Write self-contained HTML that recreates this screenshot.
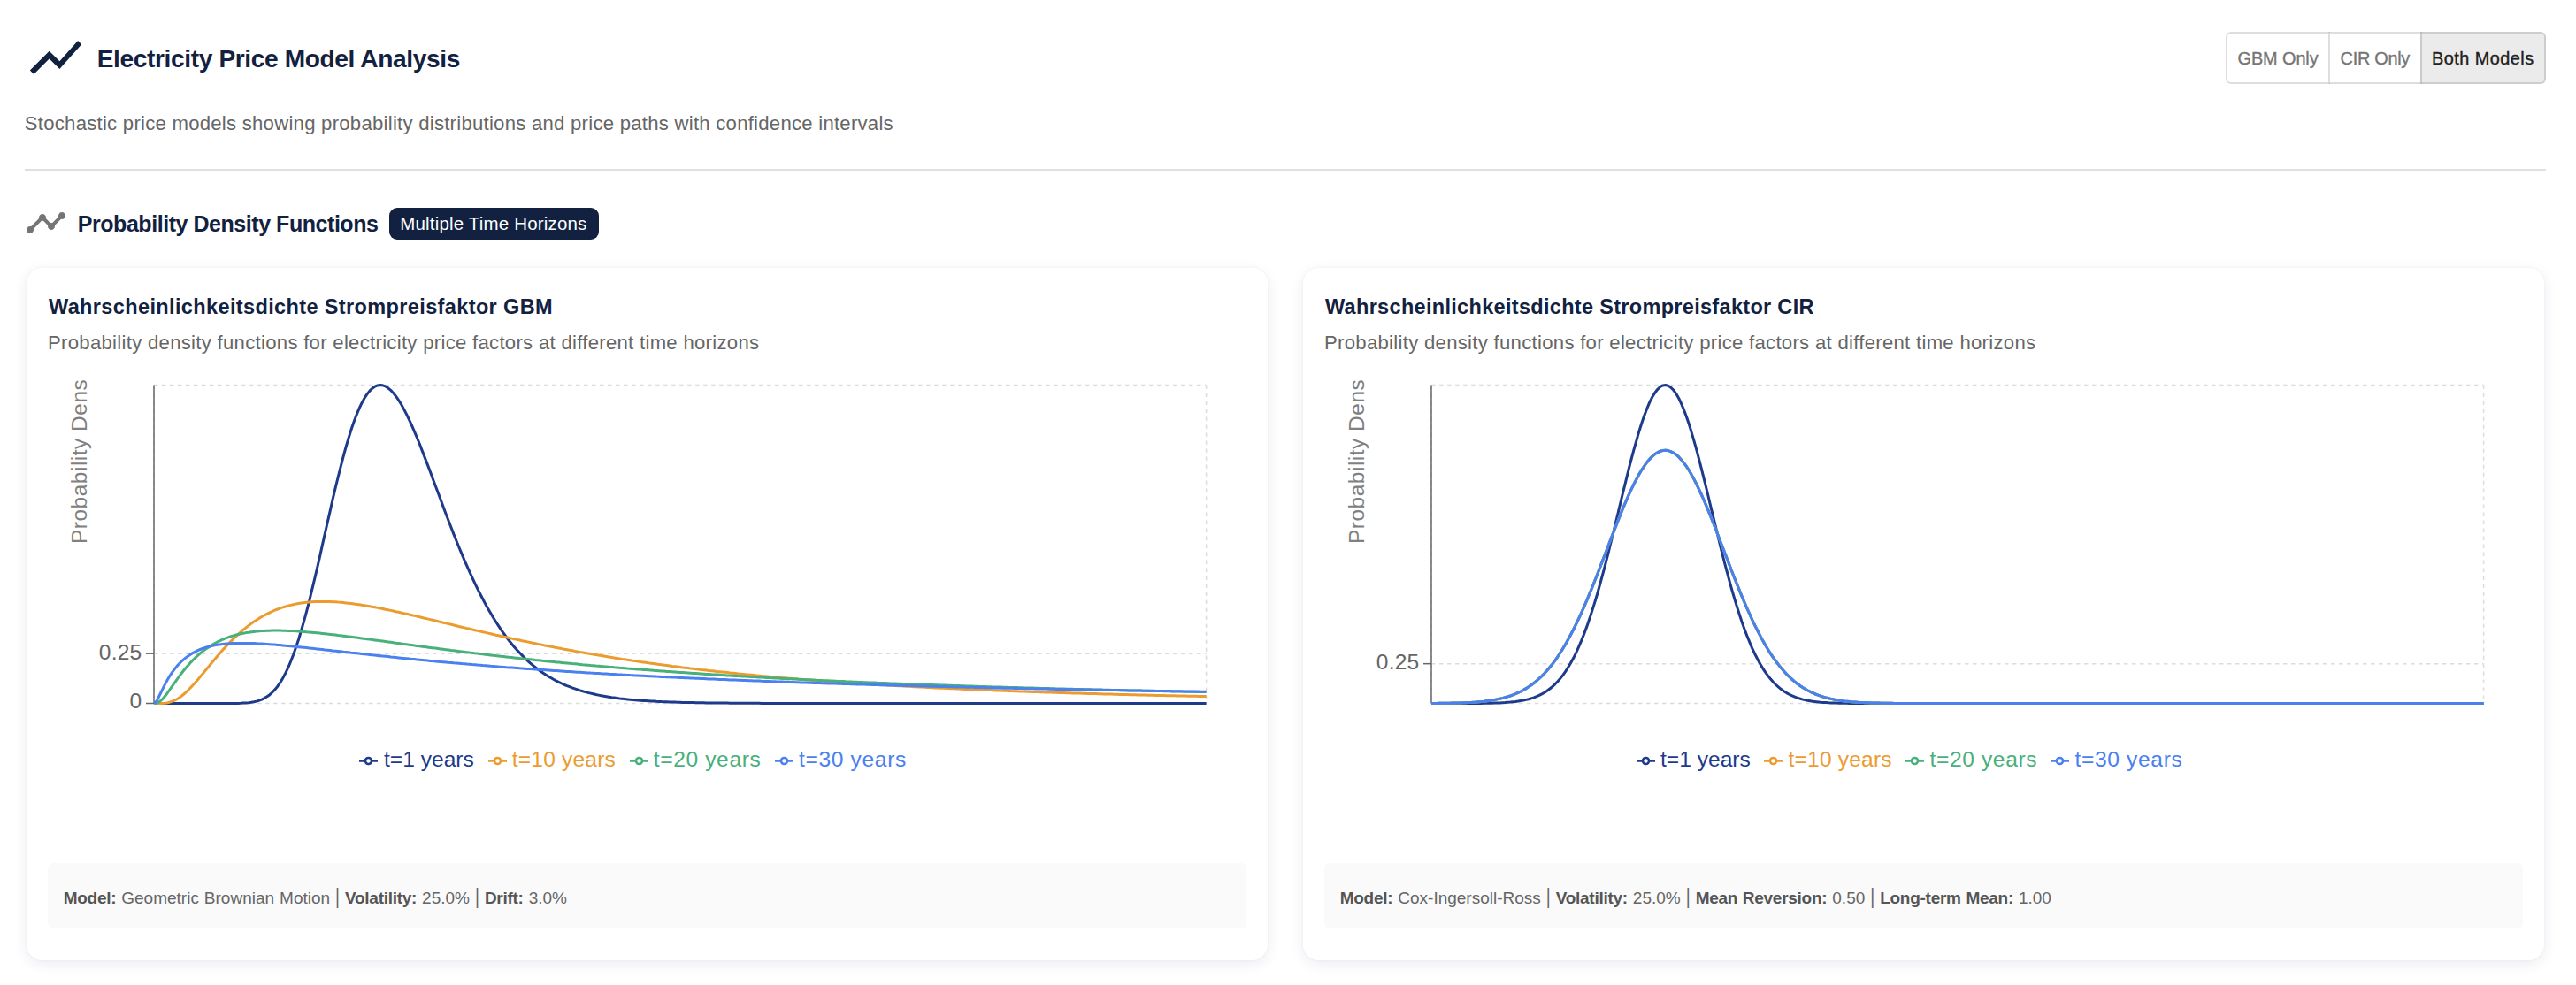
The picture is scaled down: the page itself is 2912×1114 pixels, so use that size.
<!DOCTYPE html>
<html lang="en">
<head>
<meta charset="utf-8">
<title>Electricity Price Model Analysis</title>
<style>
*{box-sizing:border-box;margin:0;padding:0}
html,body{width:2912px;height:1114px;background:#fff;overflow:hidden}
body{font-family:"Liberation Sans",Arial,sans-serif;color:#122140;position:relative}
.abs{position:absolute;white-space:nowrap;line-height:1}
#ico-main{position:absolute;left:28.2px;top:30.4px;width:70px;height:70px;fill:#122140}
h1{left:109.75px;top:52.5px;font-size:28.1px;font-weight:700;letter-spacing:-.372px;color:#122140}
.lead{left:27.8px;top:128.8px;font-size:22.15px;letter-spacing:.249px;color:#666666}
.toggle{position:absolute;left:2516.1px;top:36px;height:58.8px;display:flex}
.toggle button{height:58.8px;border:2px solid rgba(0,0,0,.13);border-left-color:transparent;margin-left:-2px;border-radius:0;background:transparent;font:400 19.9px/57.4px "Liberation Sans",Arial,sans-serif;color:#757575;-webkit-text-stroke:.35px currentColor;text-align:center;white-space:nowrap;padding:0}
.toggle button:first-child{margin-left:0;border-left-color:rgba(0,0,0,.13);border-radius:6px 0 0 6px}
.toggle button:last-child{border-radius:0 6px 6px 0}
.toggle button.on{background:rgba(0,0,0,.08);color:#212121}
hr{position:absolute;left:28px;top:190.8px;width:2850px;height:1.8px;border:0;background:#e0e0e0}
#ico-sec{position:absolute;left:28px;top:228px;width:48px;height:48px;fill:#757575}
h2{left:87.75px;top:240.6px;font-size:25px;font-weight:700;letter-spacing:-.452px;color:#122140}
.badge{position:absolute;left:439.9px;top:234.9px;width:237.4px;height:36px;border-radius:9px;background:#122140;color:#fff;font-size:20.5px;line-height:36.8px;letter-spacing:.183px;padding-left:12.3px;white-space:nowrap}
.card{position:absolute;top:303px;width:1403px;height:783px;background:#fff;border-radius:18px;box-shadow:0 0 0 1.5px rgba(20,40,100,.015),0 4px 16px rgba(20,40,100,.085)}
.card h3{left:25px;top:32.8px;font-size:23.5px;font-weight:700;color:#122140}
.card .desc{left:24px;top:74.4px;font-size:22.15px;letter-spacing:.286px;color:#666666}
.chart{position:absolute;top:125.4px;overflow:hidden;font-family:"Liberation Sans",Arial,sans-serif}
.legend{position:absolute;left:0;top:0;list-style:none}
.legend li{position:absolute;top:542.3px;white-space:nowrap;font-size:24.6px;line-height:28px;height:28px}
.legend li svg{position:absolute;left:0;top:4.5px}
.legend li span{position:absolute;top:0}
.info{position:absolute;left:24px;top:673px;width:1355px;height:74px;border-radius:6px;background:#fafafa;color:#666666;font-size:19px;line-height:80px;padding-left:17.7px;white-space:nowrap;letter-spacing:0;word-spacing:.7px;overflow:hidden}
.info i{font-style:normal;display:inline-block;transform:scaleY(1.22);transform-origin:50% 58%}
.info b{font-weight:700;color:#555;letter-spacing:-.27px}
</style>
</head>
<body>
<header>
<svg id="ico-main" viewBox="0 0 24 24" aria-hidden="true"><path d="M3.5 18.49l6-6.01 4 4L22 6.92l-1.41-1.41-7.09 7.97-4-4L2 16.99z"/></svg>
<h1 class="abs">Electricity Price Model Analysis</h1>
<div class="toggle" role="group">
<button type="button" style="width:117.9px;letter-spacing:-.08px">GBM Only</button>
<button type="button" style="width:105.7px;letter-spacing:-.28px">CIR Only</button>
<button type="button" class="on" style="width:142.3px;letter-spacing:.45px">Both Models</button>
</div>
<p class="abs lead">Stochastic price models showing probability distributions and price paths with confidence intervals</p>
<hr>
</header>
<main>
<svg id="ico-sec" viewBox="0 0 24 24" aria-hidden="true"><path d="M23 8c0 1.1-.9 2-2 2-.18 0-.35-.02-.51-.07l-3.56 3.55c.05.16.07.34.07.52 0 1.1-.9 2-2 2s-2-.9-2-2c0-.18.02-.36.07-.52l-2.55-2.55c-.16.05-.34.07-.52.07s-.36-.02-.52-.07l-4.55 4.56c.05.16.07.33.07.51 0 1.1-.9 2-2 2s-2-.9-2-2 .9-2 2-2c.18 0 .35.02.51.07l4.56-4.55C8.02 9.36 8 9.18 8 9c0-1.1.9-2 2-2s2 .9 2 2c0 .18-.02.36-.07.52l2.55 2.55c.16-.05.34-.07.52-.07s.36.02.52.07l3.55-3.56C19.02 8.35 19 8.18 19 8c0-1.1.9-2 2-2s2 .9 2 2z"/></svg>
<h2 class="abs">Probability Density Functions</h2>
<span class="badge">Multiple Time Horizons</span>
<article class="card" style="left:30px">
<h3 class="abs" style="letter-spacing:.373px">Wahrscheinlichkeitsdichte Strompreisfaktor GBM</h3>
<p class="abs desc">Probability density functions for electricity price factors at different time horizons</p>
<svg class="chart" style="left:24.1px" width="1354.6" height="525" viewBox="0 0 1354.6 525">
<g stroke="#dcdcdc" stroke-width="1.5" stroke-dasharray="4.5 4.5" fill="none">
<line x1="120.0" y1="7.50" x2="1309.6" y2="7.50"/>
<line x1="120.0" y1="311.17" x2="1309.6" y2="311.17"/>
<line x1="120.0" y1="367.50" x2="1309.6" y2="367.50"/>
<line x1="120.0" y1="7.5" x2="120.0" y2="367.5"/>
<line x1="1309.6" y1="7.5" x2="1309.6" y2="367.5"/>
</g>
<g stroke="#666666" stroke-width="1.5" fill="none">
<line x1="120.0" y1="7.5" x2="120.0" y2="367.5"/>
<line x1="111.0" y1="311.17" x2="120.0" y2="311.17"/>
<line x1="111.0" y1="367.5" x2="120.0" y2="367.5"/>
</g>
<g fill="#666666" font-size="24.6" text-anchor="end" letter-spacing="0.17">
<text x="106.4" y="317.67">0.25</text>
<text x="106.4" y="373.00">0</text>
</g>
<text transform="rotate(-90 43.6 187)" x="43.6" y="187" fill="#808080" font-size="24.5" letter-spacing="0.5">Probability Density</text>
<path d="M120.0,367.5L123.0,367.5L125.9,367.5L128.9,367.5L131.9,367.5L134.9,367.5L137.8,367.5L140.8,367.5L143.8,367.5L146.8,367.5L149.7,367.5L152.7,367.5L155.7,367.5L158.7,367.5L161.6,367.5L164.6,367.5L167.6,367.5L170.6,367.5L173.5,367.5L176.5,367.5L179.5,367.5L182.5,367.5L185.4,367.5L188.4,367.5L191.4,367.5L194.3,367.5L197.3,367.5L200.3,367.5L203.3,367.5L206.2,367.5L209.2,367.5L212.2,367.4L215.2,367.4L218.1,367.3L221.1,367.1L224.1,366.9L227.1,366.7L230.0,366.3L233.0,365.8L236.0,365.1L239.0,364.2L241.9,363.1L244.9,361.6L247.9,359.8L250.9,357.7L253.8,355.0L256.8,351.9L259.8,348.2L262.8,343.9L265.7,339.0L268.7,333.4L271.7,327.2L274.6,320.2L277.6,312.5L280.6,304.1L283.6,295.0L286.5,285.2L289.5,274.8L292.5,263.8L295.5,252.3L298.4,240.2L301.4,227.8L304.4,215.1L307.4,202.1L310.3,188.9L313.3,175.7L316.3,162.4L319.3,149.3L322.2,136.4L325.2,123.7L328.2,111.5L331.2,99.6L334.1,88.3L337.1,77.5L340.1,67.4L343.0,58.0L346.0,49.3L349.0,41.3L352.0,34.2L354.9,27.9L357.9,22.5L360.9,17.9L363.9,14.1L366.8,11.2L369.8,9.2L372.8,7.9L375.8,7.5L378.7,7.8L381.7,8.9L384.7,10.8L387.7,13.3L390.6,16.4L393.6,20.2L396.6,24.5L399.6,29.3L402.5,34.6L405.5,40.4L408.5,46.6L411.5,53.1L414.4,59.9L417.4,67.0L420.4,74.3L423.3,81.9L426.3,89.6L429.3,97.4L432.3,105.3L435.2,113.3L438.2,121.3L441.2,129.3L444.2,137.3L447.1,145.3L450.1,153.2L453.1,161.0L456.1,168.7L459.0,176.4L462.0,183.8L465.0,191.2L468.0,198.4L470.9,205.4L473.9,212.2L476.9,218.9L479.9,225.4L482.8,231.7L485.8,237.9L488.8,243.8L491.8,249.5L494.7,255.1L497.7,260.4L500.7,265.6L503.6,270.5L506.6,275.3L509.6,279.9L512.6,284.3L515.5,288.5L518.5,292.6L521.5,296.5L524.5,300.2L527.4,303.7L530.4,307.1L533.4,310.3L536.4,313.4L539.3,316.3L542.3,319.1L545.3,321.8L548.3,324.3L551.2,326.7L554.2,329.0L557.2,331.2L560.2,333.3L563.1,335.2L566.1,337.1L569.1,338.8L572.0,340.5L575.0,342.1L578.0,343.6L581.0,345.0L583.9,346.3L586.9,347.6L589.9,348.7L592.9,349.9L595.8,350.9L598.8,351.9L601.8,352.9L604.8,353.8L607.7,354.6L610.7,355.4L613.7,356.1L616.7,356.8L619.6,357.5L622.6,358.1L625.6,358.7L628.6,359.2L631.5,359.7L634.5,360.2L637.5,360.7L640.4,361.1L643.4,361.5L646.4,361.9L649.4,362.2L652.3,362.6L655.3,362.9L658.3,363.2L661.3,363.5L664.2,363.7L667.2,364.0L670.2,364.2L673.2,364.4L676.1,364.6L679.1,364.8L682.1,365.0L685.1,365.1L688.0,365.3L691.0,365.4L694.0,365.6L697.0,365.7L699.9,365.8L702.9,365.9L705.9,366.0L708.9,366.1L711.8,366.2L714.8,366.3L717.8,366.4L720.7,366.4L723.7,366.5L726.7,366.6L729.7,366.6L732.6,366.7L735.6,366.7L738.6,366.8L741.6,366.8L744.5,366.9L747.5,366.9L750.5,367.0L753.5,367.0L756.4,367.0L759.4,367.1L762.4,367.1L765.4,367.1L768.3,367.1L771.3,367.2L774.3,367.2L777.3,367.2L780.2,367.2L783.2,367.2L786.2,367.3L789.1,367.3L792.1,367.3L795.1,367.3L798.1,367.3L801.0,367.3L804.0,367.3L807.0,367.4L810.0,367.4L812.9,367.4L815.9,367.4L818.9,367.4L821.9,367.4L824.8,367.4L827.8,367.4L830.8,367.4L833.8,367.4L836.7,367.4L839.7,367.4L842.7,367.4L845.7,367.4L848.6,367.4L851.6,367.4L854.6,367.5L857.6,367.5L860.5,367.5L863.5,367.5L866.5,367.5L869.4,367.5L872.4,367.5L875.4,367.5L878.4,367.5L881.3,367.5L884.3,367.5L887.3,367.5L890.3,367.5L893.2,367.5L896.2,367.5L899.2,367.5L902.2,367.5L905.1,367.5L908.1,367.5L911.1,367.5L914.1,367.5L917.0,367.5L920.0,367.5L923.0,367.5L926.0,367.5L928.9,367.5L931.9,367.5L934.9,367.5L937.8,367.5L940.8,367.5L943.8,367.5L946.8,367.5L949.7,367.5L952.7,367.5L955.7,367.5L958.7,367.5L961.6,367.5L964.6,367.5L967.6,367.5L970.6,367.5L973.5,367.5L976.5,367.5L979.5,367.5L982.5,367.5L985.4,367.5L988.4,367.5L991.4,367.5L994.4,367.5L997.3,367.5L1000.3,367.5L1003.3,367.5L1006.3,367.5L1009.2,367.5L1012.2,367.5L1015.2,367.5L1018.1,367.5L1021.1,367.5L1024.1,367.5L1027.1,367.5L1030.0,367.5L1033.0,367.5L1036.0,367.5L1039.0,367.5L1041.9,367.5L1044.9,367.5L1047.9,367.5L1050.9,367.5L1053.8,367.5L1056.8,367.5L1059.8,367.5L1062.8,367.5L1065.7,367.5L1068.7,367.5L1071.7,367.5L1074.7,367.5L1077.6,367.5L1080.6,367.5L1083.6,367.5L1086.5,367.5L1089.5,367.5L1092.5,367.5L1095.5,367.5L1098.4,367.5L1101.4,367.5L1104.4,367.5L1107.4,367.5L1110.3,367.5L1113.3,367.5L1116.3,367.5L1119.3,367.5L1122.2,367.5L1125.2,367.5L1128.2,367.5L1131.2,367.5L1134.1,367.5L1137.1,367.5L1140.1,367.5L1143.1,367.5L1146.0,367.5L1149.0,367.5L1152.0,367.5L1155.0,367.5L1157.9,367.5L1160.9,367.5L1163.9,367.5L1166.8,367.5L1169.8,367.5L1172.8,367.5L1175.8,367.5L1178.7,367.5L1181.7,367.5L1184.7,367.5L1187.7,367.5L1190.6,367.5L1193.6,367.5L1196.6,367.5L1199.6,367.5L1202.5,367.5L1205.5,367.5L1208.5,367.5L1211.5,367.5L1214.4,367.5L1217.4,367.5L1220.4,367.5L1223.4,367.5L1226.3,367.5L1229.3,367.5L1232.3,367.5L1235.2,367.5L1238.2,367.5L1241.2,367.5L1244.2,367.5L1247.1,367.5L1250.1,367.5L1253.1,367.5L1256.1,367.5L1259.0,367.5L1262.0,367.5L1265.0,367.5L1268.0,367.5L1270.9,367.5L1273.9,367.5L1276.9,367.5L1279.9,367.5L1282.8,367.5L1285.8,367.5L1288.8,367.5L1291.8,367.5L1294.7,367.5L1297.7,367.5L1300.7,367.5L1303.7,367.5L1306.6,367.5L1309.6,367.5" fill="none" stroke="#1e3a8a" stroke-width="3" stroke-linejoin="round"/>
<path d="M120.0,367.5L123.0,367.5L125.9,367.5L128.9,367.4L131.9,367.3L134.9,366.9L137.8,366.2L140.8,365.2L143.8,363.9L146.8,362.3L149.7,360.3L152.7,358.0L155.7,355.4L158.7,352.6L161.6,349.5L164.6,346.3L167.6,342.9L170.6,339.5L173.5,335.9L176.5,332.4L179.5,328.7L182.5,325.1L185.4,321.5L188.4,318.0L191.4,314.5L194.3,311.0L197.3,307.6L200.3,304.4L203.3,301.2L206.2,298.1L209.2,295.1L212.2,292.2L215.2,289.4L218.1,286.8L221.1,284.2L224.1,281.8L227.1,279.4L230.0,277.2L233.0,275.1L236.0,273.2L239.0,271.3L241.9,269.5L244.9,267.8L247.9,266.3L250.9,264.8L253.8,263.5L256.8,262.2L259.8,261.0L262.8,259.9L265.7,258.9L268.7,258.0L271.7,257.2L274.6,256.4L277.6,255.7L280.6,255.1L283.6,254.6L286.5,254.1L289.5,253.7L292.5,253.3L295.5,253.0L298.4,252.8L301.4,252.6L304.4,252.5L307.4,252.4L310.3,252.4L313.3,252.4L316.3,252.4L319.3,252.5L322.2,252.7L325.2,252.8L328.2,253.1L331.2,253.3L334.1,253.6L337.1,253.9L340.1,254.2L343.0,254.6L346.0,255.0L349.0,255.4L352.0,255.8L354.9,256.3L357.9,256.7L360.9,257.2L363.9,257.7L366.8,258.3L369.8,258.8L372.8,259.4L375.8,260.0L378.7,260.5L381.7,261.2L384.7,261.8L387.7,262.4L390.6,263.0L393.6,263.7L396.6,264.3L399.6,265.0L402.5,265.7L405.5,266.3L408.5,267.0L411.5,267.7L414.4,268.4L417.4,269.1L420.4,269.8L423.3,270.5L426.3,271.2L429.3,271.9L432.3,272.6L435.2,273.3L438.2,274.0L441.2,274.7L444.2,275.5L447.1,276.2L450.1,276.9L453.1,277.6L456.1,278.3L459.0,279.0L462.0,279.7L465.0,280.5L468.0,281.2L470.9,281.9L473.9,282.6L476.9,283.3L479.9,284.0L482.8,284.7L485.8,285.4L488.8,286.1L491.8,286.8L494.7,287.4L497.7,288.1L500.7,288.8L503.6,289.5L506.6,290.2L509.6,290.8L512.6,291.5L515.5,292.2L518.5,292.8L521.5,293.5L524.5,294.1L527.4,294.8L530.4,295.4L533.4,296.0L536.4,296.7L539.3,297.3L542.3,297.9L545.3,298.5L548.3,299.2L551.2,299.8L554.2,300.4L557.2,301.0L560.2,301.6L563.1,302.2L566.1,302.8L569.1,303.3L572.0,303.9L575.0,304.5L578.0,305.1L581.0,305.6L583.9,306.2L586.9,306.7L589.9,307.3L592.9,307.8L595.8,308.4L598.8,308.9L601.8,309.5L604.8,310.0L607.7,310.5L610.7,311.0L613.7,311.5L616.7,312.0L619.6,312.6L622.6,313.1L625.6,313.6L628.6,314.0L631.5,314.5L634.5,315.0L637.5,315.5L640.4,316.0L643.4,316.4L646.4,316.9L649.4,317.4L652.3,317.8L655.3,318.3L658.3,318.7L661.3,319.2L664.2,319.6L667.2,320.0L670.2,320.5L673.2,320.9L676.1,321.3L679.1,321.8L682.1,322.2L685.1,322.6L688.0,323.0L691.0,323.4L694.0,323.8L697.0,324.2L699.9,324.6L702.9,325.0L705.9,325.4L708.9,325.7L711.8,326.1L714.8,326.5L717.8,326.9L720.7,327.2L723.7,327.6L726.7,328.0L729.7,328.3L732.6,328.7L735.6,329.0L738.6,329.4L741.6,329.7L744.5,330.0L747.5,330.4L750.5,330.7L753.5,331.0L756.4,331.4L759.4,331.7L762.4,332.0L765.4,332.3L768.3,332.6L771.3,333.0L774.3,333.3L777.3,333.6L780.2,333.9L783.2,334.2L786.2,334.5L789.1,334.8L792.1,335.0L795.1,335.3L798.1,335.6L801.0,335.9L804.0,336.2L807.0,336.5L810.0,336.7L812.9,337.0L815.9,337.3L818.9,337.5L821.9,337.8L824.8,338.1L827.8,338.3L830.8,338.6L833.8,338.8L836.7,339.1L839.7,339.3L842.7,339.6L845.7,339.8L848.6,340.1L851.6,340.3L854.6,340.5L857.6,340.8L860.5,341.0L863.5,341.2L866.5,341.5L869.4,341.7L872.4,341.9L875.4,342.1L878.4,342.3L881.3,342.6L884.3,342.8L887.3,343.0L890.3,343.2L893.2,343.4L896.2,343.6L899.2,343.8L902.2,344.0L905.1,344.2L908.1,344.4L911.1,344.6L914.1,344.8L917.0,345.0L920.0,345.2L923.0,345.4L926.0,345.6L928.9,345.8L931.9,345.9L934.9,346.1L937.8,346.3L940.8,346.5L943.8,346.7L946.8,346.8L949.7,347.0L952.7,347.2L955.7,347.3L958.7,347.5L961.6,347.7L964.6,347.8L967.6,348.0L970.6,348.2L973.5,348.3L976.5,348.5L979.5,348.7L982.5,348.8L985.4,349.0L988.4,349.1L991.4,349.3L994.4,349.4L997.3,349.6L1000.3,349.7L1003.3,349.9L1006.3,350.0L1009.2,350.2L1012.2,350.3L1015.2,350.4L1018.1,350.6L1021.1,350.7L1024.1,350.8L1027.1,351.0L1030.0,351.1L1033.0,351.3L1036.0,351.4L1039.0,351.5L1041.9,351.6L1044.9,351.8L1047.9,351.9L1050.9,352.0L1053.8,352.1L1056.8,352.3L1059.8,352.4L1062.8,352.5L1065.7,352.6L1068.7,352.8L1071.7,352.9L1074.7,353.0L1077.6,353.1L1080.6,353.2L1083.6,353.3L1086.5,353.4L1089.5,353.6L1092.5,353.7L1095.5,353.8L1098.4,353.9L1101.4,354.0L1104.4,354.1L1107.4,354.2L1110.3,354.3L1113.3,354.4L1116.3,354.5L1119.3,354.6L1122.2,354.7L1125.2,354.8L1128.2,354.9L1131.2,355.0L1134.1,355.1L1137.1,355.2L1140.1,355.3L1143.1,355.4L1146.0,355.5L1149.0,355.6L1152.0,355.7L1155.0,355.8L1157.9,355.9L1160.9,356.0L1163.9,356.0L1166.8,356.1L1169.8,356.2L1172.8,356.3L1175.8,356.4L1178.7,356.5L1181.7,356.6L1184.7,356.6L1187.7,356.7L1190.6,356.8L1193.6,356.9L1196.6,357.0L1199.6,357.1L1202.5,357.1L1205.5,357.2L1208.5,357.3L1211.5,357.4L1214.4,357.4L1217.4,357.5L1220.4,357.6L1223.4,357.7L1226.3,357.7L1229.3,357.8L1232.3,357.9L1235.2,358.0L1238.2,358.0L1241.2,358.1L1244.2,358.2L1247.1,358.2L1250.1,358.3L1253.1,358.4L1256.1,358.5L1259.0,358.5L1262.0,358.6L1265.0,358.7L1268.0,358.7L1270.9,358.8L1273.9,358.8L1276.9,358.9L1279.9,359.0L1282.8,359.0L1285.8,359.1L1288.8,359.2L1291.8,359.2L1294.7,359.3L1297.7,359.3L1300.7,359.4L1303.7,359.5L1306.6,359.5L1309.6,359.6" fill="none" stroke="#ec9c2f" stroke-width="3" stroke-linejoin="round"/>
<path d="M120.0,367.5L123.0,367.3L125.9,365.9L128.9,363.4L131.9,360.0L134.9,356.2L137.8,352.0L140.8,347.8L143.8,343.6L146.8,339.4L149.7,335.4L152.7,331.5L155.7,327.8L158.7,324.4L161.6,321.1L164.6,318.0L167.6,315.1L170.6,312.4L173.5,309.9L176.5,307.6L179.5,305.4L182.5,303.4L185.4,301.5L188.4,299.8L191.4,298.2L194.3,296.8L197.3,295.4L200.3,294.2L203.3,293.1L206.2,292.0L209.2,291.1L212.2,290.3L215.2,289.5L218.1,288.8L221.1,288.2L224.1,287.6L227.1,287.2L230.0,286.7L233.0,286.4L236.0,286.1L239.0,285.8L241.9,285.6L244.9,285.4L247.9,285.3L250.9,285.2L253.8,285.1L256.8,285.1L259.8,285.1L262.8,285.1L265.7,285.2L268.7,285.3L271.7,285.4L274.6,285.5L277.6,285.6L280.6,285.8L283.6,286.0L286.5,286.2L289.5,286.4L292.5,286.7L295.5,286.9L298.4,287.2L301.4,287.5L304.4,287.8L307.4,288.1L310.3,288.4L313.3,288.7L316.3,289.1L319.3,289.4L322.2,289.7L325.2,290.1L328.2,290.5L331.2,290.8L334.1,291.2L337.1,291.6L340.1,291.9L343.0,292.3L346.0,292.7L349.0,293.1L352.0,293.5L354.9,293.9L357.9,294.3L360.9,294.7L363.9,295.1L366.8,295.5L369.8,295.9L372.8,296.3L375.8,296.7L378.7,297.1L381.7,297.5L384.7,297.9L387.7,298.3L390.6,298.7L393.6,299.2L396.6,299.6L399.6,300.0L402.5,300.4L405.5,300.8L408.5,301.2L411.5,301.6L414.4,302.0L417.4,302.4L420.4,302.8L423.3,303.2L426.3,303.6L429.3,304.0L432.3,304.4L435.2,304.8L438.2,305.1L441.2,305.5L444.2,305.9L447.1,306.3L450.1,306.7L453.1,307.1L456.1,307.5L459.0,307.8L462.0,308.2L465.0,308.6L468.0,308.9L470.9,309.3L473.9,309.7L476.9,310.1L479.9,310.4L482.8,310.8L485.8,311.1L488.8,311.5L491.8,311.8L494.7,312.2L497.7,312.5L500.7,312.9L503.6,313.2L506.6,313.6L509.6,313.9L512.6,314.3L515.5,314.6L518.5,314.9L521.5,315.3L524.5,315.6L527.4,315.9L530.4,316.2L533.4,316.6L536.4,316.9L539.3,317.2L542.3,317.5L545.3,317.8L548.3,318.1L551.2,318.5L554.2,318.8L557.2,319.1L560.2,319.4L563.1,319.7L566.1,320.0L569.1,320.3L572.0,320.6L575.0,320.9L578.0,321.1L581.0,321.4L583.9,321.7L586.9,322.0L589.9,322.3L592.9,322.6L595.8,322.8L598.8,323.1L601.8,323.4L604.8,323.7L607.7,323.9L610.7,324.2L613.7,324.5L616.7,324.7L619.6,325.0L622.6,325.2L625.6,325.5L628.6,325.8L631.5,326.0L634.5,326.3L637.5,326.5L640.4,326.8L643.4,327.0L646.4,327.3L649.4,327.5L652.3,327.7L655.3,328.0L658.3,328.2L661.3,328.4L664.2,328.7L667.2,328.9L670.2,329.1L673.2,329.4L676.1,329.6L679.1,329.8L682.1,330.0L685.1,330.3L688.0,330.5L691.0,330.7L694.0,330.9L697.0,331.1L699.9,331.4L702.9,331.6L705.9,331.8L708.9,332.0L711.8,332.2L714.8,332.4L717.8,332.6L720.7,332.8L723.7,333.0L726.7,333.2L729.7,333.4L732.6,333.6L735.6,333.8L738.6,334.0L741.6,334.2L744.5,334.4L747.5,334.6L750.5,334.8L753.5,334.9L756.4,335.1L759.4,335.3L762.4,335.5L765.4,335.7L768.3,335.9L771.3,336.0L774.3,336.2L777.3,336.4L780.2,336.6L783.2,336.7L786.2,336.9L789.1,337.1L792.1,337.3L795.1,337.4L798.1,337.6L801.0,337.8L804.0,337.9L807.0,338.1L810.0,338.2L812.9,338.4L815.9,338.6L818.9,338.7L821.9,338.9L824.8,339.0L827.8,339.2L830.8,339.4L833.8,339.5L836.7,339.7L839.7,339.8L842.7,340.0L845.7,340.1L848.6,340.3L851.6,340.4L854.6,340.6L857.6,340.7L860.5,340.8L863.5,341.0L866.5,341.1L869.4,341.3L872.4,341.4L875.4,341.6L878.4,341.7L881.3,341.8L884.3,342.0L887.3,342.1L890.3,342.2L893.2,342.4L896.2,342.5L899.2,342.6L902.2,342.8L905.1,342.9L908.1,343.0L911.1,343.2L914.1,343.3L917.0,343.4L920.0,343.5L923.0,343.7L926.0,343.8L928.9,343.9L931.9,344.0L934.9,344.1L937.8,344.3L940.8,344.4L943.8,344.5L946.8,344.6L949.7,344.7L952.7,344.9L955.7,345.0L958.7,345.1L961.6,345.2L964.6,345.3L967.6,345.4L970.6,345.5L973.5,345.7L976.5,345.8L979.5,345.9L982.5,346.0L985.4,346.1L988.4,346.2L991.4,346.3L994.4,346.4L997.3,346.5L1000.3,346.6L1003.3,346.7L1006.3,346.8L1009.2,346.9L1012.2,347.0L1015.2,347.1L1018.1,347.2L1021.1,347.3L1024.1,347.4L1027.1,347.5L1030.0,347.6L1033.0,347.7L1036.0,347.8L1039.0,347.9L1041.9,348.0L1044.9,348.1L1047.9,348.2L1050.9,348.3L1053.8,348.4L1056.8,348.5L1059.8,348.6L1062.8,348.7L1065.7,348.8L1068.7,348.9L1071.7,348.9L1074.7,349.0L1077.6,349.1L1080.6,349.2L1083.6,349.3L1086.5,349.4L1089.5,349.5L1092.5,349.6L1095.5,349.6L1098.4,349.7L1101.4,349.8L1104.4,349.9L1107.4,350.0L1110.3,350.1L1113.3,350.1L1116.3,350.2L1119.3,350.3L1122.2,350.4L1125.2,350.5L1128.2,350.6L1131.2,350.6L1134.1,350.7L1137.1,350.8L1140.1,350.9L1143.1,350.9L1146.0,351.0L1149.0,351.1L1152.0,351.2L1155.0,351.2L1157.9,351.3L1160.9,351.4L1163.9,351.5L1166.8,351.5L1169.8,351.6L1172.8,351.7L1175.8,351.8L1178.7,351.8L1181.7,351.9L1184.7,352.0L1187.7,352.0L1190.6,352.1L1193.6,352.2L1196.6,352.3L1199.6,352.3L1202.5,352.4L1205.5,352.5L1208.5,352.5L1211.5,352.6L1214.4,352.7L1217.4,352.7L1220.4,352.8L1223.4,352.9L1226.3,352.9L1229.3,353.0L1232.3,353.1L1235.2,353.1L1238.2,353.2L1241.2,353.3L1244.2,353.3L1247.1,353.4L1250.1,353.4L1253.1,353.5L1256.1,353.6L1259.0,353.6L1262.0,353.7L1265.0,353.7L1268.0,353.8L1270.9,353.9L1273.9,353.9L1276.9,354.0L1279.9,354.0L1282.8,354.1L1285.8,354.2L1288.8,354.2L1291.8,354.3L1294.7,354.3L1297.7,354.4L1300.7,354.4L1303.7,354.5L1306.6,354.6L1309.6,354.6" fill="none" stroke="#48b07a" stroke-width="3" stroke-linejoin="round"/>
<path d="M120.0,367.5L123.0,365.0L125.9,359.3L128.9,353.1L131.9,347.1L134.9,341.6L137.8,336.6L140.8,332.1L143.8,328.1L146.8,324.5L149.7,321.4L152.7,318.6L155.7,316.1L158.7,313.9L161.6,311.9L164.6,310.1L167.6,308.6L170.6,307.2L173.5,306.0L176.5,305.0L179.5,304.0L182.5,303.2L185.4,302.5L188.4,301.9L191.4,301.3L194.3,300.9L197.3,300.5L200.3,300.2L203.3,299.9L206.2,299.7L209.2,299.6L212.2,299.5L215.2,299.4L218.1,299.4L221.1,299.4L224.1,299.4L227.1,299.4L230.0,299.5L233.0,299.6L236.0,299.8L239.0,299.9L241.9,300.1L244.9,300.3L247.9,300.5L250.9,300.7L253.8,300.9L256.8,301.1L259.8,301.4L262.8,301.6L265.7,301.9L268.7,302.2L271.7,302.5L274.6,302.8L277.6,303.1L280.6,303.4L283.6,303.7L286.5,304.0L289.5,304.3L292.5,304.6L295.5,304.9L298.4,305.2L301.4,305.6L304.4,305.9L307.4,306.2L310.3,306.5L313.3,306.9L316.3,307.2L319.3,307.5L322.2,307.9L325.2,308.2L328.2,308.5L331.2,308.8L334.1,309.2L337.1,309.5L340.1,309.8L343.0,310.2L346.0,310.5L349.0,310.8L352.0,311.1L354.9,311.5L357.9,311.8L360.9,312.1L363.9,312.4L366.8,312.8L369.8,313.1L372.8,313.4L375.8,313.7L378.7,314.0L381.7,314.3L384.7,314.6L387.7,315.0L390.6,315.3L393.6,315.6L396.6,315.9L399.6,316.2L402.5,316.5L405.5,316.8L408.5,317.1L411.5,317.4L414.4,317.6L417.4,317.9L420.4,318.2L423.3,318.5L426.3,318.8L429.3,319.1L432.3,319.4L435.2,319.6L438.2,319.9L441.2,320.2L444.2,320.5L447.1,320.7L450.1,321.0L453.1,321.3L456.1,321.5L459.0,321.8L462.0,322.0L465.0,322.3L468.0,322.6L470.9,322.8L473.9,323.1L476.9,323.3L479.9,323.6L482.8,323.8L485.8,324.1L488.8,324.3L491.8,324.6L494.7,324.8L497.7,325.0L500.7,325.3L503.6,325.5L506.6,325.7L509.6,326.0L512.6,326.2L515.5,326.4L518.5,326.7L521.5,326.9L524.5,327.1L527.4,327.3L530.4,327.5L533.4,327.8L536.4,328.0L539.3,328.2L542.3,328.4L545.3,328.6L548.3,328.8L551.2,329.0L554.2,329.2L557.2,329.4L560.2,329.6L563.1,329.8L566.1,330.0L569.1,330.2L572.0,330.4L575.0,330.6L578.0,330.8L581.0,331.0L583.9,331.2L586.9,331.4L589.9,331.6L592.9,331.8L595.8,332.0L598.8,332.2L601.8,332.3L604.8,332.5L607.7,332.7L610.7,332.9L613.7,333.1L616.7,333.2L619.6,333.4L622.6,333.6L625.6,333.8L628.6,333.9L631.5,334.1L634.5,334.3L637.5,334.4L640.4,334.6L643.4,334.8L646.4,334.9L649.4,335.1L652.3,335.2L655.3,335.4L658.3,335.6L661.3,335.7L664.2,335.9L667.2,336.0L670.2,336.2L673.2,336.3L676.1,336.5L679.1,336.7L682.1,336.8L685.1,336.9L688.0,337.1L691.0,337.2L694.0,337.4L697.0,337.5L699.9,337.7L702.9,337.8L705.9,338.0L708.9,338.1L711.8,338.2L714.8,338.4L717.8,338.5L720.7,338.7L723.7,338.8L726.7,338.9L729.7,339.1L732.6,339.2L735.6,339.3L738.6,339.5L741.6,339.6L744.5,339.7L747.5,339.9L750.5,340.0L753.5,340.1L756.4,340.2L759.4,340.4L762.4,340.5L765.4,340.6L768.3,340.7L771.3,340.9L774.3,341.0L777.3,341.1L780.2,341.2L783.2,341.3L786.2,341.5L789.1,341.6L792.1,341.7L795.1,341.8L798.1,341.9L801.0,342.0L804.0,342.1L807.0,342.3L810.0,342.4L812.9,342.5L815.9,342.6L818.9,342.7L821.9,342.8L824.8,342.9L827.8,343.0L830.8,343.1L833.8,343.2L836.7,343.3L839.7,343.5L842.7,343.6L845.7,343.7L848.6,343.8L851.6,343.9L854.6,344.0L857.6,344.1L860.5,344.2L863.5,344.3L866.5,344.4L869.4,344.5L872.4,344.6L875.4,344.7L878.4,344.8L881.3,344.9L884.3,345.0L887.3,345.0L890.3,345.1L893.2,345.2L896.2,345.3L899.2,345.4L902.2,345.5L905.1,345.6L908.1,345.7L911.1,345.8L914.1,345.9L917.0,346.0L920.0,346.1L923.0,346.1L926.0,346.2L928.9,346.3L931.9,346.4L934.9,346.5L937.8,346.6L940.8,346.7L943.8,346.7L946.8,346.8L949.7,346.9L952.7,347.0L955.7,347.1L958.7,347.2L961.6,347.2L964.6,347.3L967.6,347.4L970.6,347.5L973.5,347.6L976.5,347.6L979.5,347.7L982.5,347.8L985.4,347.9L988.4,348.0L991.4,348.0L994.4,348.1L997.3,348.2L1000.3,348.3L1003.3,348.3L1006.3,348.4L1009.2,348.5L1012.2,348.6L1015.2,348.6L1018.1,348.7L1021.1,348.8L1024.1,348.9L1027.1,348.9L1030.0,349.0L1033.0,349.1L1036.0,349.1L1039.0,349.2L1041.9,349.3L1044.9,349.3L1047.9,349.4L1050.9,349.5L1053.8,349.6L1056.8,349.6L1059.8,349.7L1062.8,349.8L1065.7,349.8L1068.7,349.9L1071.7,350.0L1074.7,350.0L1077.6,350.1L1080.6,350.2L1083.6,350.2L1086.5,350.3L1089.5,350.3L1092.5,350.4L1095.5,350.5L1098.4,350.5L1101.4,350.6L1104.4,350.7L1107.4,350.7L1110.3,350.8L1113.3,350.8L1116.3,350.9L1119.3,351.0L1122.2,351.0L1125.2,351.1L1128.2,351.1L1131.2,351.2L1134.1,351.3L1137.1,351.3L1140.1,351.4L1143.1,351.4L1146.0,351.5L1149.0,351.6L1152.0,351.6L1155.0,351.7L1157.9,351.7L1160.9,351.8L1163.9,351.8L1166.8,351.9L1169.8,352.0L1172.8,352.0L1175.8,352.1L1178.7,352.1L1181.7,352.2L1184.7,352.2L1187.7,352.3L1190.6,352.3L1193.6,352.4L1196.6,352.4L1199.6,352.5L1202.5,352.5L1205.5,352.6L1208.5,352.6L1211.5,352.7L1214.4,352.7L1217.4,352.8L1220.4,352.9L1223.4,352.9L1226.3,353.0L1229.3,353.0L1232.3,353.1L1235.2,353.1L1238.2,353.2L1241.2,353.2L1244.2,353.2L1247.1,353.3L1250.1,353.3L1253.1,353.4L1256.1,353.4L1259.0,353.5L1262.0,353.5L1265.0,353.6L1268.0,353.6L1270.9,353.7L1273.9,353.7L1276.9,353.8L1279.9,353.8L1282.8,353.9L1285.8,353.9L1288.8,354.0L1291.8,354.0L1294.7,354.0L1297.7,354.1L1300.7,354.1L1303.7,354.2L1306.6,354.2L1309.6,354.3" fill="none" stroke="#4a80f0" stroke-width="3" stroke-linejoin="round"/>
</svg>
<ul class="legend">
<li style="left:376px;color:#1e3a8a"><svg width="21" height="21" viewBox="0 0 32 32"><path stroke-width="4" fill="none" stroke="#1e3a8a" d="M0,16h10.666666666666666A5.333333333333333,5.333333333333333,0,1,1,21.333333333333332,16H32M21.333333333333332,16A5.333333333333333,5.333333333333333,0,1,1,10.666666666666666,16"/></svg><span style="left:28px;letter-spacing:0px">t=1 years</span></li>
<li style="left:522px;color:#ec9c2f"><svg width="21" height="21" viewBox="0 0 32 32"><path stroke-width="4" fill="none" stroke="#ec9c2f" d="M0,16h10.666666666666666A5.333333333333333,5.333333333333333,0,1,1,21.333333333333332,16H32M21.333333333333332,16A5.333333333333333,5.333333333333333,0,1,1,10.666666666666666,16"/></svg><span style="left:26.75px;letter-spacing:0.17px">t=10 years</span></li>
<li style="left:682px;color:#48b07a"><svg width="21" height="21" viewBox="0 0 32 32"><path stroke-width="4" fill="none" stroke="#48b07a" d="M0,16h10.666666666666666A5.333333333333333,5.333333333333333,0,1,1,21.333333333333332,16H32M21.333333333333332,16A5.333333333333333,5.333333333333333,0,1,1,10.666666666666666,16"/></svg><span style="left:26.75px;letter-spacing:0.61px">t=20 years</span></li>
<li style="left:846px;color:#4a80f0"><svg width="21" height="21" viewBox="0 0 32 32"><path stroke-width="4" fill="none" stroke="#4a80f0" d="M0,16h10.666666666666666A5.333333333333333,5.333333333333333,0,1,1,21.333333333333332,16H32M21.333333333333332,16A5.333333333333333,5.333333333333333,0,1,1,10.666666666666666,16"/></svg><span style="left:27px;letter-spacing:0.64px">t=30 years</span></li>
</ul>
<p class="info"><b>Model:</b> Geometric Brownian Motion <i>|</i> <b>Volatility:</b> 25.0% <i>|</i> <b>Drift:</b> 3.0%</p>
</article>
<article class="card" style="left:1473px">
<h3 class="abs" style="letter-spacing:.311px">Wahrscheinlichkeitsdichte Strompreisfaktor CIR</h3>
<p class="abs desc">Probability density functions for electricity price factors at different time horizons</p>
<svg class="chart" style="left:25.05px" width="1354.6" height="525" viewBox="0 0 1354.6 525">
<g stroke="#dcdcdc" stroke-width="1.5" stroke-dasharray="4.5 4.5" fill="none">
<line x1="120.0" y1="7.50" x2="1309.6" y2="7.50"/>
<line x1="120.0" y1="322.66" x2="1309.6" y2="322.66"/>
<line x1="120.0" y1="367.50" x2="1309.6" y2="367.50"/>
<line x1="120.0" y1="7.5" x2="120.0" y2="367.5"/>
<line x1="1309.6" y1="7.5" x2="1309.6" y2="367.5"/>
</g>
<g stroke="#666666" stroke-width="1.5" fill="none">
<line x1="120.0" y1="7.5" x2="120.0" y2="367.5"/>
<line x1="111.0" y1="322.66" x2="120.0" y2="322.66"/>
</g>
<g fill="#666666" font-size="24.6" text-anchor="end" letter-spacing="0.17">
<text x="106.4" y="329.16">0.25</text>
</g>
<text transform="rotate(-90 43.6 187)" x="43.6" y="187" fill="#808080" font-size="24.5" letter-spacing="0.5">Probability Density</text>
<path d="M120.0,367.5L123.0,367.5L125.9,367.5L128.9,367.5L131.9,367.5L134.9,367.5L137.8,367.5L140.8,367.5L143.8,367.5L146.8,367.5L149.7,367.5L152.7,367.5L155.7,367.5L158.7,367.5L161.6,367.5L164.6,367.4L167.6,367.4L170.6,367.4L173.5,367.4L176.5,367.4L179.5,367.3L182.5,367.3L185.4,367.2L188.4,367.2L191.4,367.1L194.3,367.0L197.3,366.9L200.3,366.7L203.3,366.6L206.2,366.3L209.2,366.1L212.2,365.8L215.2,365.5L218.1,365.1L221.1,364.6L224.1,364.1L227.1,363.4L230.0,362.7L233.0,361.8L236.0,360.8L239.0,359.7L241.9,358.4L244.9,356.9L247.9,355.2L250.9,353.2L253.8,351.0L256.8,348.6L259.8,345.8L262.8,342.8L265.7,339.4L268.7,335.6L271.7,331.4L274.6,326.8L277.6,321.8L280.6,316.3L283.6,310.3L286.5,303.8L289.5,296.9L292.5,289.4L295.5,281.4L298.4,272.9L301.4,263.9L304.4,254.4L307.4,244.5L310.3,234.0L313.3,223.2L316.3,212.0L319.3,200.4L322.2,188.5L325.2,176.5L328.2,164.2L331.2,151.9L334.1,139.5L337.1,127.2L340.1,115.1L343.0,103.2L346.0,91.6L349.0,80.4L352.0,69.8L354.9,59.7L357.9,50.3L360.9,41.6L363.9,33.8L366.8,26.9L369.8,21.0L372.8,16.1L375.8,12.3L378.7,9.5L381.7,7.9L384.7,7.5L387.7,8.2L390.6,10.1L393.6,13.0L396.6,17.1L399.6,22.2L402.5,28.4L405.5,35.5L408.5,43.5L411.5,52.3L414.4,61.9L417.4,72.1L420.4,82.9L423.3,94.1L426.3,105.8L429.3,117.8L432.3,130.0L435.2,142.3L438.2,154.6L441.2,166.9L444.2,179.2L447.1,191.2L450.1,203.0L453.1,214.5L456.1,225.6L459.0,236.4L462.0,246.7L465.0,256.6L468.0,266.0L470.9,274.9L473.9,283.2L476.9,291.1L479.9,298.5L482.8,305.3L485.8,311.7L488.8,317.5L491.8,322.9L494.7,327.8L497.7,332.3L500.7,336.4L503.6,340.1L506.6,343.5L509.6,346.5L512.6,349.2L515.5,351.6L518.5,353.7L521.5,355.6L524.5,357.2L527.4,358.7L530.4,359.9L533.4,361.1L536.4,362.0L539.3,362.9L542.3,363.6L545.3,364.2L548.3,364.7L551.2,365.2L554.2,365.6L557.2,365.9L560.2,366.2L563.1,366.4L566.1,366.6L569.1,366.8L572.0,366.9L575.0,367.0L578.0,367.1L581.0,367.2L583.9,367.2L586.9,367.3L589.9,367.3L592.9,367.4L595.8,367.4L598.8,367.4L601.8,367.4L604.8,367.4L607.7,367.5L610.7,367.5L613.7,367.5L616.7,367.5L619.6,367.5L622.6,367.5L625.6,367.5L628.6,367.5L631.5,367.5L634.5,367.5L637.5,367.5L640.4,367.5L643.4,367.5L646.4,367.5L649.4,367.5L652.3,367.5L655.3,367.5L658.3,367.5L661.3,367.5L664.2,367.5L667.2,367.5L670.2,367.5L673.2,367.5L676.1,367.5L679.1,367.5L682.1,367.5L685.1,367.5L688.0,367.5L691.0,367.5L694.0,367.5L697.0,367.5L699.9,367.5L702.9,367.5L705.9,367.5L708.9,367.5L711.8,367.5L714.8,367.5L717.8,367.5L720.7,367.5L723.7,367.5L726.7,367.5L729.7,367.5L732.6,367.5L735.6,367.5L738.6,367.5L741.6,367.5L744.5,367.5L747.5,367.5L750.5,367.5L753.5,367.5L756.4,367.5L759.4,367.5L762.4,367.5L765.4,367.5L768.3,367.5L771.3,367.5L774.3,367.5L777.3,367.5L780.2,367.5L783.2,367.5L786.2,367.5L789.1,367.5L792.1,367.5L795.1,367.5L798.1,367.5L801.0,367.5L804.0,367.5L807.0,367.5L810.0,367.5L812.9,367.5L815.9,367.5L818.9,367.5L821.9,367.5L824.8,367.5L827.8,367.5L830.8,367.5L833.8,367.5L836.7,367.5L839.7,367.5L842.7,367.5L845.7,367.5L848.6,367.5L851.6,367.5L854.6,367.5L857.6,367.5L860.5,367.5L863.5,367.5L866.5,367.5L869.4,367.5L872.4,367.5L875.4,367.5L878.4,367.5L881.3,367.5L884.3,367.5L887.3,367.5L890.3,367.5L893.2,367.5L896.2,367.5L899.2,367.5L902.2,367.5L905.1,367.5L908.1,367.5L911.1,367.5L914.1,367.5L917.0,367.5L920.0,367.5L923.0,367.5L926.0,367.5L928.9,367.5L931.9,367.5L934.9,367.5L937.8,367.5L940.8,367.5L943.8,367.5L946.8,367.5L949.7,367.5L952.7,367.5L955.7,367.5L958.7,367.5L961.6,367.5L964.6,367.5L967.6,367.5L970.6,367.5L973.5,367.5L976.5,367.5L979.5,367.5L982.5,367.5L985.4,367.5L988.4,367.5L991.4,367.5L994.4,367.5L997.3,367.5L1000.3,367.5L1003.3,367.5L1006.3,367.5L1009.2,367.5L1012.2,367.5L1015.2,367.5L1018.1,367.5L1021.1,367.5L1024.1,367.5L1027.1,367.5L1030.0,367.5L1033.0,367.5L1036.0,367.5L1039.0,367.5L1041.9,367.5L1044.9,367.5L1047.9,367.5L1050.9,367.5L1053.8,367.5L1056.8,367.5L1059.8,367.5L1062.8,367.5L1065.7,367.5L1068.7,367.5L1071.7,367.5L1074.7,367.5L1077.6,367.5L1080.6,367.5L1083.6,367.5L1086.5,367.5L1089.5,367.5L1092.5,367.5L1095.5,367.5L1098.4,367.5L1101.4,367.5L1104.4,367.5L1107.4,367.5L1110.3,367.5L1113.3,367.5L1116.3,367.5L1119.3,367.5L1122.2,367.5L1125.2,367.5L1128.2,367.5L1131.2,367.5L1134.1,367.5L1137.1,367.5L1140.1,367.5L1143.1,367.5L1146.0,367.5L1149.0,367.5L1152.0,367.5L1155.0,367.5L1157.9,367.5L1160.9,367.5L1163.9,367.5L1166.8,367.5L1169.8,367.5L1172.8,367.5L1175.8,367.5L1178.7,367.5L1181.7,367.5L1184.7,367.5L1187.7,367.5L1190.6,367.5L1193.6,367.5L1196.6,367.5L1199.6,367.5L1202.5,367.5L1205.5,367.5L1208.5,367.5L1211.5,367.5L1214.4,367.5L1217.4,367.5L1220.4,367.5L1223.4,367.5L1226.3,367.5L1229.3,367.5L1232.3,367.5L1235.2,367.5L1238.2,367.5L1241.2,367.5L1244.2,367.5L1247.1,367.5L1250.1,367.5L1253.1,367.5L1256.1,367.5L1259.0,367.5L1262.0,367.5L1265.0,367.5L1268.0,367.5L1270.9,367.5L1273.9,367.5L1276.9,367.5L1279.9,367.5L1282.8,367.5L1285.8,367.5L1288.8,367.5L1291.8,367.5L1294.7,367.5L1297.7,367.5L1300.7,367.5L1303.7,367.5L1306.6,367.5L1309.6,367.5" fill="none" stroke="#1e3a8a" stroke-width="3" stroke-linejoin="round"/>
<path d="M120.0,367.4L123.0,367.4L125.9,367.4L128.9,367.3L131.9,367.3L134.9,367.3L137.8,367.2L140.8,367.2L143.8,367.1L146.8,367.1L149.7,367.0L152.7,366.9L155.7,366.8L158.7,366.7L161.6,366.5L164.6,366.4L167.6,366.2L170.6,366.0L173.5,365.7L176.5,365.5L179.5,365.2L182.5,364.8L185.4,364.4L188.4,364.0L191.4,363.5L194.3,362.9L197.3,362.3L200.3,361.6L203.3,360.8L206.2,359.9L209.2,359.0L212.2,357.9L215.2,356.7L218.1,355.4L221.1,354.0L224.1,352.4L227.1,350.6L230.0,348.8L233.0,346.7L236.0,344.5L239.0,342.1L241.9,339.4L244.9,336.6L247.9,333.6L250.9,330.3L253.8,326.8L256.8,323.1L259.8,319.1L262.8,314.8L265.7,310.3L268.7,305.6L271.7,300.6L274.6,295.3L277.6,289.8L280.6,284.0L283.6,278.0L286.5,271.8L289.5,265.3L292.5,258.6L295.5,251.7L298.4,244.6L301.4,237.3L304.4,229.8L307.4,222.3L310.3,214.6L313.3,206.9L316.3,199.1L319.3,191.3L322.2,183.5L325.2,175.7L328.2,168.1L331.2,160.5L334.1,153.1L337.1,145.8L340.1,138.8L343.0,132.1L346.0,125.6L349.0,119.4L352.0,113.6L354.9,108.3L357.9,103.3L360.9,98.7L363.9,94.7L366.8,91.1L369.8,88.1L372.8,85.6L375.8,83.7L378.7,82.3L381.7,81.5L384.7,81.3L387.7,81.6L390.6,82.6L393.6,84.1L396.6,86.1L399.6,88.7L402.5,91.9L405.5,95.6L408.5,99.7L411.5,104.3L414.4,109.4L417.4,114.9L420.4,120.8L423.3,127.0L426.3,133.5L429.3,140.4L432.3,147.4L435.2,154.7L438.2,162.2L441.2,169.8L444.2,177.5L447.1,185.2L450.1,193.0L453.1,200.8L456.1,208.6L459.0,216.3L462.0,224.0L465.0,231.5L468.0,238.9L470.9,246.1L473.9,253.2L476.9,260.1L479.9,266.7L482.8,273.2L485.8,279.4L488.8,285.3L491.8,291.1L494.7,296.5L497.7,301.7L500.7,306.7L503.6,311.4L506.6,315.8L509.6,320.0L512.6,323.9L515.5,327.6L518.5,331.0L521.5,334.3L524.5,337.2L527.4,340.0L530.4,342.6L533.4,345.0L536.4,347.2L539.3,349.2L542.3,351.0L545.3,352.7L548.3,354.3L551.2,355.7L554.2,357.0L557.2,358.1L560.2,359.2L563.1,360.1L566.1,361.0L569.1,361.7L572.0,362.4L575.0,363.0L578.0,363.6L581.0,364.1L583.9,364.5L586.9,364.9L589.9,365.2L592.9,365.5L595.8,365.8L598.8,366.0L601.8,366.2L604.8,366.4L607.7,366.6L610.7,366.7L613.7,366.8L616.7,366.9L619.6,367.0L622.6,367.1L625.6,367.1L628.6,367.2L631.5,367.2L634.5,367.3L637.5,367.3L640.4,367.3L643.4,367.4L646.4,367.4L649.4,367.4L652.3,367.4L655.3,367.4L658.3,367.4L661.3,367.5L664.2,367.5L667.2,367.5L670.2,367.5L673.2,367.5L676.1,367.5L679.1,367.5L682.1,367.5L685.1,367.5L688.0,367.5L691.0,367.5L694.0,367.5L697.0,367.5L699.9,367.5L702.9,367.5L705.9,367.5L708.9,367.5L711.8,367.5L714.8,367.5L717.8,367.5L720.7,367.5L723.7,367.5L726.7,367.5L729.7,367.5L732.6,367.5L735.6,367.5L738.6,367.5L741.6,367.5L744.5,367.5L747.5,367.5L750.5,367.5L753.5,367.5L756.4,367.5L759.4,367.5L762.4,367.5L765.4,367.5L768.3,367.5L771.3,367.5L774.3,367.5L777.3,367.5L780.2,367.5L783.2,367.5L786.2,367.5L789.1,367.5L792.1,367.5L795.1,367.5L798.1,367.5L801.0,367.5L804.0,367.5L807.0,367.5L810.0,367.5L812.9,367.5L815.9,367.5L818.9,367.5L821.9,367.5L824.8,367.5L827.8,367.5L830.8,367.5L833.8,367.5L836.7,367.5L839.7,367.5L842.7,367.5L845.7,367.5L848.6,367.5L851.6,367.5L854.6,367.5L857.6,367.5L860.5,367.5L863.5,367.5L866.5,367.5L869.4,367.5L872.4,367.5L875.4,367.5L878.4,367.5L881.3,367.5L884.3,367.5L887.3,367.5L890.3,367.5L893.2,367.5L896.2,367.5L899.2,367.5L902.2,367.5L905.1,367.5L908.1,367.5L911.1,367.5L914.1,367.5L917.0,367.5L920.0,367.5L923.0,367.5L926.0,367.5L928.9,367.5L931.9,367.5L934.9,367.5L937.8,367.5L940.8,367.5L943.8,367.5L946.8,367.5L949.7,367.5L952.7,367.5L955.7,367.5L958.7,367.5L961.6,367.5L964.6,367.5L967.6,367.5L970.6,367.5L973.5,367.5L976.5,367.5L979.5,367.5L982.5,367.5L985.4,367.5L988.4,367.5L991.4,367.5L994.4,367.5L997.3,367.5L1000.3,367.5L1003.3,367.5L1006.3,367.5L1009.2,367.5L1012.2,367.5L1015.2,367.5L1018.1,367.5L1021.1,367.5L1024.1,367.5L1027.1,367.5L1030.0,367.5L1033.0,367.5L1036.0,367.5L1039.0,367.5L1041.9,367.5L1044.9,367.5L1047.9,367.5L1050.9,367.5L1053.8,367.5L1056.8,367.5L1059.8,367.5L1062.8,367.5L1065.7,367.5L1068.7,367.5L1071.7,367.5L1074.7,367.5L1077.6,367.5L1080.6,367.5L1083.6,367.5L1086.5,367.5L1089.5,367.5L1092.5,367.5L1095.5,367.5L1098.4,367.5L1101.4,367.5L1104.4,367.5L1107.4,367.5L1110.3,367.5L1113.3,367.5L1116.3,367.5L1119.3,367.5L1122.2,367.5L1125.2,367.5L1128.2,367.5L1131.2,367.5L1134.1,367.5L1137.1,367.5L1140.1,367.5L1143.1,367.5L1146.0,367.5L1149.0,367.5L1152.0,367.5L1155.0,367.5L1157.9,367.5L1160.9,367.5L1163.9,367.5L1166.8,367.5L1169.8,367.5L1172.8,367.5L1175.8,367.5L1178.7,367.5L1181.7,367.5L1184.7,367.5L1187.7,367.5L1190.6,367.5L1193.6,367.5L1196.6,367.5L1199.6,367.5L1202.5,367.5L1205.5,367.5L1208.5,367.5L1211.5,367.5L1214.4,367.5L1217.4,367.5L1220.4,367.5L1223.4,367.5L1226.3,367.5L1229.3,367.5L1232.3,367.5L1235.2,367.5L1238.2,367.5L1241.2,367.5L1244.2,367.5L1247.1,367.5L1250.1,367.5L1253.1,367.5L1256.1,367.5L1259.0,367.5L1262.0,367.5L1265.0,367.5L1268.0,367.5L1270.9,367.5L1273.9,367.5L1276.9,367.5L1279.9,367.5L1282.8,367.5L1285.8,367.5L1288.8,367.5L1291.8,367.5L1294.7,367.5L1297.7,367.5L1300.7,367.5L1303.7,367.5L1306.6,367.5L1309.6,367.5" fill="none" stroke="#ec9c2f" stroke-width="3" stroke-linejoin="round"/>
<path d="M120.0,367.4L123.0,367.4L125.9,367.4L128.9,367.3L131.9,367.3L134.9,367.3L137.8,367.2L140.8,367.2L143.8,367.1L146.8,367.1L149.7,367.0L152.7,366.9L155.7,366.8L158.7,366.7L161.6,366.5L164.6,366.4L167.6,366.2L170.6,366.0L173.5,365.7L176.5,365.5L179.5,365.2L182.5,364.8L185.4,364.4L188.4,364.0L191.4,363.5L194.3,362.9L197.3,362.3L200.3,361.6L203.3,360.8L206.2,359.9L209.2,359.0L212.2,357.9L215.2,356.7L218.1,355.4L221.1,354.0L224.1,352.4L227.1,350.6L230.0,348.8L233.0,346.7L236.0,344.5L239.0,342.0L241.9,339.4L244.9,336.6L247.9,333.6L250.9,330.3L253.8,326.8L256.8,323.1L259.8,319.1L262.8,314.8L265.7,310.3L268.7,305.6L271.7,300.6L274.6,295.3L277.6,289.8L280.6,284.0L283.6,278.0L286.5,271.8L289.5,265.3L292.5,258.6L295.5,251.7L298.4,244.5L301.4,237.3L304.4,229.8L307.4,222.3L310.3,214.6L313.3,206.9L316.3,199.1L319.3,191.3L322.2,183.5L325.2,175.7L328.2,168.1L331.2,160.5L334.1,153.1L337.1,145.8L340.1,138.8L343.0,132.1L346.0,125.6L349.0,119.4L352.0,113.7L354.9,108.3L357.9,103.3L360.9,98.8L363.9,94.7L366.8,91.1L369.8,88.1L372.8,85.6L375.8,83.7L378.7,82.3L381.7,81.5L384.7,81.3L387.7,81.6L390.6,82.6L393.6,84.1L396.6,86.1L399.6,88.7L402.5,91.9L405.5,95.6L408.5,99.7L411.5,104.3L414.4,109.4L417.4,114.9L420.4,120.8L423.3,127.0L426.3,133.5L429.3,140.4L432.3,147.4L435.2,154.7L438.2,162.2L441.2,169.8L444.2,177.5L447.1,185.2L450.1,193.0L453.1,200.8L456.1,208.6L459.0,216.3L462.0,224.0L465.0,231.5L468.0,238.9L470.9,246.1L473.9,253.2L476.9,260.1L479.9,266.7L482.8,273.2L485.8,279.4L488.8,285.3L491.8,291.1L494.7,296.5L497.7,301.7L500.7,306.7L503.6,311.4L506.6,315.8L509.6,320.0L512.6,323.9L515.5,327.6L518.5,331.0L521.5,334.3L524.5,337.2L527.4,340.0L530.4,342.6L533.4,345.0L536.4,347.2L539.3,349.2L542.3,351.0L545.3,352.7L548.3,354.3L551.2,355.7L554.2,357.0L557.2,358.1L560.2,359.2L563.1,360.1L566.1,361.0L569.1,361.7L572.0,362.4L575.0,363.0L578.0,363.6L581.0,364.1L583.9,364.5L586.9,364.9L589.9,365.2L592.9,365.5L595.8,365.8L598.8,366.0L601.8,366.2L604.8,366.4L607.7,366.6L610.7,366.7L613.7,366.8L616.7,366.9L619.6,367.0L622.6,367.1L625.6,367.1L628.6,367.2L631.5,367.2L634.5,367.3L637.5,367.3L640.4,367.3L643.4,367.4L646.4,367.4L649.4,367.4L652.3,367.4L655.3,367.4L658.3,367.4L661.3,367.5L664.2,367.5L667.2,367.5L670.2,367.5L673.2,367.5L676.1,367.5L679.1,367.5L682.1,367.5L685.1,367.5L688.0,367.5L691.0,367.5L694.0,367.5L697.0,367.5L699.9,367.5L702.9,367.5L705.9,367.5L708.9,367.5L711.8,367.5L714.8,367.5L717.8,367.5L720.7,367.5L723.7,367.5L726.7,367.5L729.7,367.5L732.6,367.5L735.6,367.5L738.6,367.5L741.6,367.5L744.5,367.5L747.5,367.5L750.5,367.5L753.5,367.5L756.4,367.5L759.4,367.5L762.4,367.5L765.4,367.5L768.3,367.5L771.3,367.5L774.3,367.5L777.3,367.5L780.2,367.5L783.2,367.5L786.2,367.5L789.1,367.5L792.1,367.5L795.1,367.5L798.1,367.5L801.0,367.5L804.0,367.5L807.0,367.5L810.0,367.5L812.9,367.5L815.9,367.5L818.9,367.5L821.9,367.5L824.8,367.5L827.8,367.5L830.8,367.5L833.8,367.5L836.7,367.5L839.7,367.5L842.7,367.5L845.7,367.5L848.6,367.5L851.6,367.5L854.6,367.5L857.6,367.5L860.5,367.5L863.5,367.5L866.5,367.5L869.4,367.5L872.4,367.5L875.4,367.5L878.4,367.5L881.3,367.5L884.3,367.5L887.3,367.5L890.3,367.5L893.2,367.5L896.2,367.5L899.2,367.5L902.2,367.5L905.1,367.5L908.1,367.5L911.1,367.5L914.1,367.5L917.0,367.5L920.0,367.5L923.0,367.5L926.0,367.5L928.9,367.5L931.9,367.5L934.9,367.5L937.8,367.5L940.8,367.5L943.8,367.5L946.8,367.5L949.7,367.5L952.7,367.5L955.7,367.5L958.7,367.5L961.6,367.5L964.6,367.5L967.6,367.5L970.6,367.5L973.5,367.5L976.5,367.5L979.5,367.5L982.5,367.5L985.4,367.5L988.4,367.5L991.4,367.5L994.4,367.5L997.3,367.5L1000.3,367.5L1003.3,367.5L1006.3,367.5L1009.2,367.5L1012.2,367.5L1015.2,367.5L1018.1,367.5L1021.1,367.5L1024.1,367.5L1027.1,367.5L1030.0,367.5L1033.0,367.5L1036.0,367.5L1039.0,367.5L1041.9,367.5L1044.9,367.5L1047.9,367.5L1050.9,367.5L1053.8,367.5L1056.8,367.5L1059.8,367.5L1062.8,367.5L1065.7,367.5L1068.7,367.5L1071.7,367.5L1074.7,367.5L1077.6,367.5L1080.6,367.5L1083.6,367.5L1086.5,367.5L1089.5,367.5L1092.5,367.5L1095.5,367.5L1098.4,367.5L1101.4,367.5L1104.4,367.5L1107.4,367.5L1110.3,367.5L1113.3,367.5L1116.3,367.5L1119.3,367.5L1122.2,367.5L1125.2,367.5L1128.2,367.5L1131.2,367.5L1134.1,367.5L1137.1,367.5L1140.1,367.5L1143.1,367.5L1146.0,367.5L1149.0,367.5L1152.0,367.5L1155.0,367.5L1157.9,367.5L1160.9,367.5L1163.9,367.5L1166.8,367.5L1169.8,367.5L1172.8,367.5L1175.8,367.5L1178.7,367.5L1181.7,367.5L1184.7,367.5L1187.7,367.5L1190.6,367.5L1193.6,367.5L1196.6,367.5L1199.6,367.5L1202.5,367.5L1205.5,367.5L1208.5,367.5L1211.5,367.5L1214.4,367.5L1217.4,367.5L1220.4,367.5L1223.4,367.5L1226.3,367.5L1229.3,367.5L1232.3,367.5L1235.2,367.5L1238.2,367.5L1241.2,367.5L1244.2,367.5L1247.1,367.5L1250.1,367.5L1253.1,367.5L1256.1,367.5L1259.0,367.5L1262.0,367.5L1265.0,367.5L1268.0,367.5L1270.9,367.5L1273.9,367.5L1276.9,367.5L1279.9,367.5L1282.8,367.5L1285.8,367.5L1288.8,367.5L1291.8,367.5L1294.7,367.5L1297.7,367.5L1300.7,367.5L1303.7,367.5L1306.6,367.5L1309.6,367.5" fill="none" stroke="#48b07a" stroke-width="3" stroke-linejoin="round"/>
<path d="M120.0,367.4L123.0,367.4L125.9,367.4L128.9,367.3L131.9,367.3L134.9,367.3L137.8,367.2L140.8,367.2L143.8,367.1L146.8,367.1L149.7,367.0L152.7,366.9L155.7,366.8L158.7,366.7L161.6,366.5L164.6,366.4L167.6,366.2L170.6,366.0L173.5,365.7L176.5,365.5L179.5,365.2L182.5,364.8L185.4,364.4L188.4,364.0L191.4,363.5L194.3,362.9L197.3,362.3L200.3,361.6L203.3,360.8L206.2,359.9L209.2,359.0L212.2,357.9L215.2,356.7L218.1,355.4L221.1,354.0L224.1,352.4L227.1,350.6L230.0,348.8L233.0,346.7L236.0,344.5L239.0,342.0L241.9,339.4L244.9,336.6L247.9,333.6L250.9,330.3L253.8,326.8L256.8,323.1L259.8,319.1L262.8,314.8L265.7,310.3L268.7,305.6L271.7,300.6L274.6,295.3L277.6,289.8L280.6,284.0L283.6,278.0L286.5,271.8L289.5,265.3L292.5,258.6L295.5,251.7L298.4,244.5L301.4,237.3L304.4,229.8L307.4,222.3L310.3,214.6L313.3,206.9L316.3,199.1L319.3,191.3L322.2,183.5L325.2,175.7L328.2,168.1L331.2,160.5L334.1,153.1L337.1,145.8L340.1,138.8L343.0,132.1L346.0,125.6L349.0,119.4L352.0,113.7L354.9,108.3L357.9,103.3L360.9,98.8L363.9,94.7L366.8,91.1L369.8,88.1L372.8,85.6L375.8,83.7L378.7,82.3L381.7,81.5L384.7,81.3L387.7,81.6L390.6,82.6L393.6,84.1L396.6,86.1L399.6,88.7L402.5,91.9L405.5,95.6L408.5,99.7L411.5,104.3L414.4,109.4L417.4,114.9L420.4,120.8L423.3,127.0L426.3,133.5L429.3,140.4L432.3,147.4L435.2,154.7L438.2,162.2L441.2,169.8L444.2,177.5L447.1,185.2L450.1,193.0L453.1,200.8L456.1,208.6L459.0,216.3L462.0,224.0L465.0,231.5L468.0,238.9L470.9,246.1L473.9,253.2L476.9,260.1L479.9,266.7L482.8,273.2L485.8,279.4L488.8,285.3L491.8,291.1L494.7,296.5L497.7,301.7L500.7,306.7L503.6,311.4L506.6,315.8L509.6,320.0L512.6,323.9L515.5,327.6L518.5,331.0L521.5,334.3L524.5,337.2L527.4,340.0L530.4,342.6L533.4,345.0L536.4,347.2L539.3,349.2L542.3,351.0L545.3,352.7L548.3,354.3L551.2,355.7L554.2,357.0L557.2,358.1L560.2,359.2L563.1,360.1L566.1,361.0L569.1,361.7L572.0,362.4L575.0,363.0L578.0,363.6L581.0,364.1L583.9,364.5L586.9,364.9L589.9,365.2L592.9,365.5L595.8,365.8L598.8,366.0L601.8,366.2L604.8,366.4L607.7,366.6L610.7,366.7L613.7,366.8L616.7,366.9L619.6,367.0L622.6,367.1L625.6,367.1L628.6,367.2L631.5,367.2L634.5,367.3L637.5,367.3L640.4,367.3L643.4,367.4L646.4,367.4L649.4,367.4L652.3,367.4L655.3,367.4L658.3,367.4L661.3,367.5L664.2,367.5L667.2,367.5L670.2,367.5L673.2,367.5L676.1,367.5L679.1,367.5L682.1,367.5L685.1,367.5L688.0,367.5L691.0,367.5L694.0,367.5L697.0,367.5L699.9,367.5L702.9,367.5L705.9,367.5L708.9,367.5L711.8,367.5L714.8,367.5L717.8,367.5L720.7,367.5L723.7,367.5L726.7,367.5L729.7,367.5L732.6,367.5L735.6,367.5L738.6,367.5L741.6,367.5L744.5,367.5L747.5,367.5L750.5,367.5L753.5,367.5L756.4,367.5L759.4,367.5L762.4,367.5L765.4,367.5L768.3,367.5L771.3,367.5L774.3,367.5L777.3,367.5L780.2,367.5L783.2,367.5L786.2,367.5L789.1,367.5L792.1,367.5L795.1,367.5L798.1,367.5L801.0,367.5L804.0,367.5L807.0,367.5L810.0,367.5L812.9,367.5L815.9,367.5L818.9,367.5L821.9,367.5L824.8,367.5L827.8,367.5L830.8,367.5L833.8,367.5L836.7,367.5L839.7,367.5L842.7,367.5L845.7,367.5L848.6,367.5L851.6,367.5L854.6,367.5L857.6,367.5L860.5,367.5L863.5,367.5L866.5,367.5L869.4,367.5L872.4,367.5L875.4,367.5L878.4,367.5L881.3,367.5L884.3,367.5L887.3,367.5L890.3,367.5L893.2,367.5L896.2,367.5L899.2,367.5L902.2,367.5L905.1,367.5L908.1,367.5L911.1,367.5L914.1,367.5L917.0,367.5L920.0,367.5L923.0,367.5L926.0,367.5L928.9,367.5L931.9,367.5L934.9,367.5L937.8,367.5L940.8,367.5L943.8,367.5L946.8,367.5L949.7,367.5L952.7,367.5L955.7,367.5L958.7,367.5L961.6,367.5L964.6,367.5L967.6,367.5L970.6,367.5L973.5,367.5L976.5,367.5L979.5,367.5L982.5,367.5L985.4,367.5L988.4,367.5L991.4,367.5L994.4,367.5L997.3,367.5L1000.3,367.5L1003.3,367.5L1006.3,367.5L1009.2,367.5L1012.2,367.5L1015.2,367.5L1018.1,367.5L1021.1,367.5L1024.1,367.5L1027.1,367.5L1030.0,367.5L1033.0,367.5L1036.0,367.5L1039.0,367.5L1041.9,367.5L1044.9,367.5L1047.9,367.5L1050.9,367.5L1053.8,367.5L1056.8,367.5L1059.8,367.5L1062.8,367.5L1065.7,367.5L1068.7,367.5L1071.7,367.5L1074.7,367.5L1077.6,367.5L1080.6,367.5L1083.6,367.5L1086.5,367.5L1089.5,367.5L1092.5,367.5L1095.5,367.5L1098.4,367.5L1101.4,367.5L1104.4,367.5L1107.4,367.5L1110.3,367.5L1113.3,367.5L1116.3,367.5L1119.3,367.5L1122.2,367.5L1125.2,367.5L1128.2,367.5L1131.2,367.5L1134.1,367.5L1137.1,367.5L1140.1,367.5L1143.1,367.5L1146.0,367.5L1149.0,367.5L1152.0,367.5L1155.0,367.5L1157.9,367.5L1160.9,367.5L1163.9,367.5L1166.8,367.5L1169.8,367.5L1172.8,367.5L1175.8,367.5L1178.7,367.5L1181.7,367.5L1184.7,367.5L1187.7,367.5L1190.6,367.5L1193.6,367.5L1196.6,367.5L1199.6,367.5L1202.5,367.5L1205.5,367.5L1208.5,367.5L1211.5,367.5L1214.4,367.5L1217.4,367.5L1220.4,367.5L1223.4,367.5L1226.3,367.5L1229.3,367.5L1232.3,367.5L1235.2,367.5L1238.2,367.5L1241.2,367.5L1244.2,367.5L1247.1,367.5L1250.1,367.5L1253.1,367.5L1256.1,367.5L1259.0,367.5L1262.0,367.5L1265.0,367.5L1268.0,367.5L1270.9,367.5L1273.9,367.5L1276.9,367.5L1279.9,367.5L1282.8,367.5L1285.8,367.5L1288.8,367.5L1291.8,367.5L1294.7,367.5L1297.7,367.5L1300.7,367.5L1303.7,367.5L1306.6,367.5L1309.6,367.5" fill="none" stroke="#4a80f0" stroke-width="3" stroke-linejoin="round"/>
</svg>
<ul class="legend">
<li style="left:377px;color:#1e3a8a"><svg width="21" height="21" viewBox="0 0 32 32"><path stroke-width="4" fill="none" stroke="#1e3a8a" d="M0,16h10.666666666666666A5.333333333333333,5.333333333333333,0,1,1,21.333333333333332,16H32M21.333333333333332,16A5.333333333333333,5.333333333333333,0,1,1,10.666666666666666,16"/></svg><span style="left:27px;letter-spacing:0px">t=1 years</span></li>
<li style="left:521px;color:#ec9c2f"><svg width="21" height="21" viewBox="0 0 32 32"><path stroke-width="4" fill="none" stroke="#ec9c2f" d="M0,16h10.666666666666666A5.333333333333333,5.333333333333333,0,1,1,21.333333333333332,16H32M21.333333333333332,16A5.333333333333333,5.333333333333333,0,1,1,10.666666666666666,16"/></svg><span style="left:27.5px;letter-spacing:0.17px">t=10 years</span></li>
<li style="left:681px;color:#48b07a"><svg width="21" height="21" viewBox="0 0 32 32"><path stroke-width="4" fill="none" stroke="#48b07a" d="M0,16h10.666666666666666A5.333333333333333,5.333333333333333,0,1,1,21.333333333333332,16H32M21.333333333333332,16A5.333333333333333,5.333333333333333,0,1,1,10.666666666666666,16"/></svg><span style="left:27.5px;letter-spacing:0.61px">t=20 years</span></li>
<li style="left:845px;color:#4a80f0"><svg width="21" height="21" viewBox="0 0 32 32"><path stroke-width="4" fill="none" stroke="#4a80f0" d="M0,16h10.666666666666666A5.333333333333333,5.333333333333333,0,1,1,21.333333333333332,16H32M21.333333333333332,16A5.333333333333333,5.333333333333333,0,1,1,10.666666666666666,16"/></svg><span style="left:27.5px;letter-spacing:0.64px">t=30 years</span></li>
</ul>
<p class="info"><b>Model:</b> Cox-Ingersoll-Ross <i>|</i> <b>Volatility:</b> 25.0% <i>|</i> <b>Mean Reversion:</b> 0.50 <i>|</i> <b>Long-term Mean:</b> 1.00</p>
</article>
</main>
</body>
</html>
